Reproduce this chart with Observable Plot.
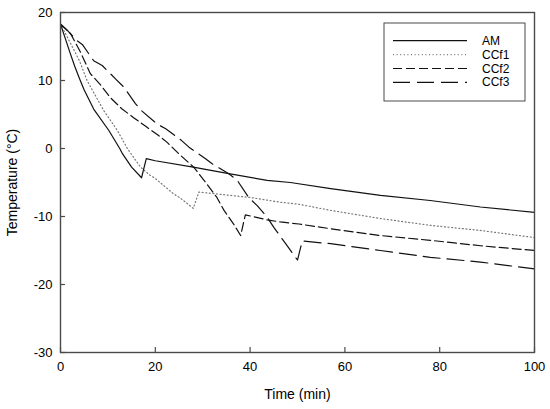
<!DOCTYPE html>
<html>
<head>
<meta charset="utf-8">
<script src="https://cdn.jsdelivr.net/npm/d3@7"></script>
<script src="https://cdn.jsdelivr.net/npm/@observablehq/plot@0.6"></script>
<style>
  html, body { margin: 0; padding: 0; background: #fff; }
  #chart { width: 550px; height: 409px; }
  svg { font-family: "Liberation Sans", Arial, sans-serif; }
</style>
</head>
<body>
<div id="chart"></div>
<script>
// Series names
const seriesNames = ["AM", "CCf1", "CCf2", "CCf3"];

// Time (min) and temperature (°C) for each series
const amTime = [0, 1, 2, 3, 4, 5, 7, 10.2, 12.5, 13.1, 15, 17.1, 18.1, 20, 28, 35.5, 43.6, 48.5, 57, 67.5, 78, 88.6, 100];
const amTemp = [18.3, 16.2, 14.1, 12.1, 10.3, 8.6, 5.8, 2.65, 0, -0.8, -2.75, -4.3, -1.5, -1.8, -2.75, -3.7, -4.7, -5.0, -5.9, -6.9, -7.65, -8.6, -9.4];

const ccf1Time = [0, 1.5, 4, 5.6, 9.1, 12, 14.1, 16.9, 18.8, 20, 23.9, 25.3, 28, 29.2, 35.9, 40, 46.4, 50.3, 57, 67.5, 78, 88.6, 100];
const ccf1Temp = [18.3, 16.3, 12.9, 10.0, 5.6, 2.65, 0, -2.75, -3.9, -4.4, -6.7, -7.3, -8.8, -6.4, -6.9, -7.2, -7.9, -8.2, -9.1, -10.3, -11.3, -12.05, -13.1];

const ccf2Time = [0, 2.1, 4.2, 6.3, 8.4, 10.5, 13, 15.5, 17.9, 20.7, 22.5, 25, 28.1, 30.2, 31.6, 33, 34.5, 36.6, 38, 39, 43.6, 46.4, 50.3, 57, 67.5, 78, 88.6, 100];
const ccf2Temp = [18.3, 16.9, 14.2, 11.0, 9.4, 7.5, 5.8, 4.5, 3.3, 1.9, 0.9, -0.8, -2.75, -4.6, -5.9, -7.2, -9.1, -11.2, -12.8, -9.75, -10.5, -10.8, -11.1, -11.8, -12.8, -13.5, -14.3, -15.0];

const ccf3Time = [0, 1.4, 3.4, 4.6, 7, 8.8, 11.6, 13.4, 15.8, 17.2, 20.4, 22.2, 25.5, 27.1, 30.6, 32, 35.5, 37.3, 39.7, 41.5, 43.6, 45, 47.5, 50, 51, 57, 67.5, 78, 88.6, 100];
const ccf3Temp = [18.3, 17.4, 15.9, 15.3, 12.9, 12.2, 10.25, 9.0, 6.6, 5.5, 3.6, 2.9, 1.2, 0.2, -1.5, -2.25, -3.7, -4.7, -7.2, -8.4, -10.1, -11.6, -14.0, -16.4, -13.6, -14.0, -15.0, -16.0, -16.7, -17.7];

// Axis ticks
const xTicks = [0, 20, 40, 60, 80, 100];
const yTicks = [20, 10, 0, -10, -20, -30];

const seriesData = [
  [amTime, amTemp],
  [ccf1Time, ccf1Temp],
  [ccf2Time, ccf2Temp],
  [ccf3Time, ccf3Temp]
];

const styles = {
  AM:   {stroke: "#111", dash: null, width: 1.2},
  CCf1: {stroke: "#777", dash: "1,2.6", width: 1.2},
  CCf2: {stroke: "#111", dash: "9,4", width: 1.2},
  CCf3: {stroke: "#111", dash: "17,7", width: 1.2}
};

const rows = [];
seriesNames.forEach((name, i) => {
  const [ts, vs] = seriesData[i];
  ts.forEach((t, j) => rows.push({series: name, t, v: vs[j]}));
});

const lineMarks = seriesNames.map(name =>
  Plot.line(rows.filter(d => d.series === name), {
    x: "t", y: "v",
    stroke: styles[name].stroke,
    strokeWidth: styles[name].width,
    strokeDasharray: styles[name].dash,
    curve: "linear"
  })
);

const fmt = d => String(d);

const chart = Plot.plot({
  width: 550,
  height: 409,
  marginLeft: 60,
  marginRight: 16,
  marginTop: 12,
  marginBottom: 57,
  style: {fontFamily: "'Liberation Sans', Arial, sans-serif", background: "#fff"},
  x: {domain: [0, 100]},
  y: {domain: [-30, 20]},
  marks: [
    ...lineMarks,
    Plot.frame({stroke: "#4a4a4a", strokeWidth: 1.4}),
    Plot.axisX({
      ticks: xTicks, tickSize: -5, tickPadding: 14, tickFormat: fmt,
      stroke: "#4a4a4a", strokeWidth: 1.2,
      fontSize: 13, fill: "#000",
      label: "Time (min)", labelAnchor: "center", labelOffset: 46, labelArrow: "none"
    }),
    Plot.axisY({
      ticks: yTicks, tickSize: -5, tickPadding: 13, tickFormat: fmt,
      stroke: "#4a4a4a", strokeWidth: 1.2,
      fontSize: 13, fill: "#000",
      label: "Temperature (°C)", labelAnchor: "center", labelOffset: 53, labelArrow: "none"
    })
  ]
});

// Enlarge axis label font
d3.select(chart).selectAll("[aria-label='x-axis label'] text, [aria-label='y-axis label'] text")
  .style("font-size", "14px");

// Legend (drawn inside the plot area, top right)
const svg = d3.select(chart);
const lg = svg.append("g").attr("class", "legend").attr("text-anchor", "start");
const boxX = 384, boxY = 23, boxW = 141, boxH = 78;
lg.append("rect")
  .attr("x", boxX).attr("y", boxY).attr("width", boxW).attr("height", boxH)
  .attr("fill", "#fff").attr("stroke", "#4a4a4a").attr("stroke-width", 1);
seriesNames.forEach((name, i) => {
  const yy = 40.7 + i * 13.9;
  lg.append("line")
    .attr("x1", 393).attr("x2", 467).attr("y1", yy).attr("y2", yy)
    .attr("stroke", styles[name].stroke)
    .attr("stroke-width", styles[name].width)
    .attr("stroke-dasharray", styles[name].dash);
  lg.append("text")
    .attr("x", 482).attr("y", yy + 4)
    .attr("text-anchor", "start")
    .attr("font-size", 12)
    .attr("fill", "#000")
    .text(name);
});

document.getElementById("chart").appendChild(chart);
</script>
</body>
</html>
